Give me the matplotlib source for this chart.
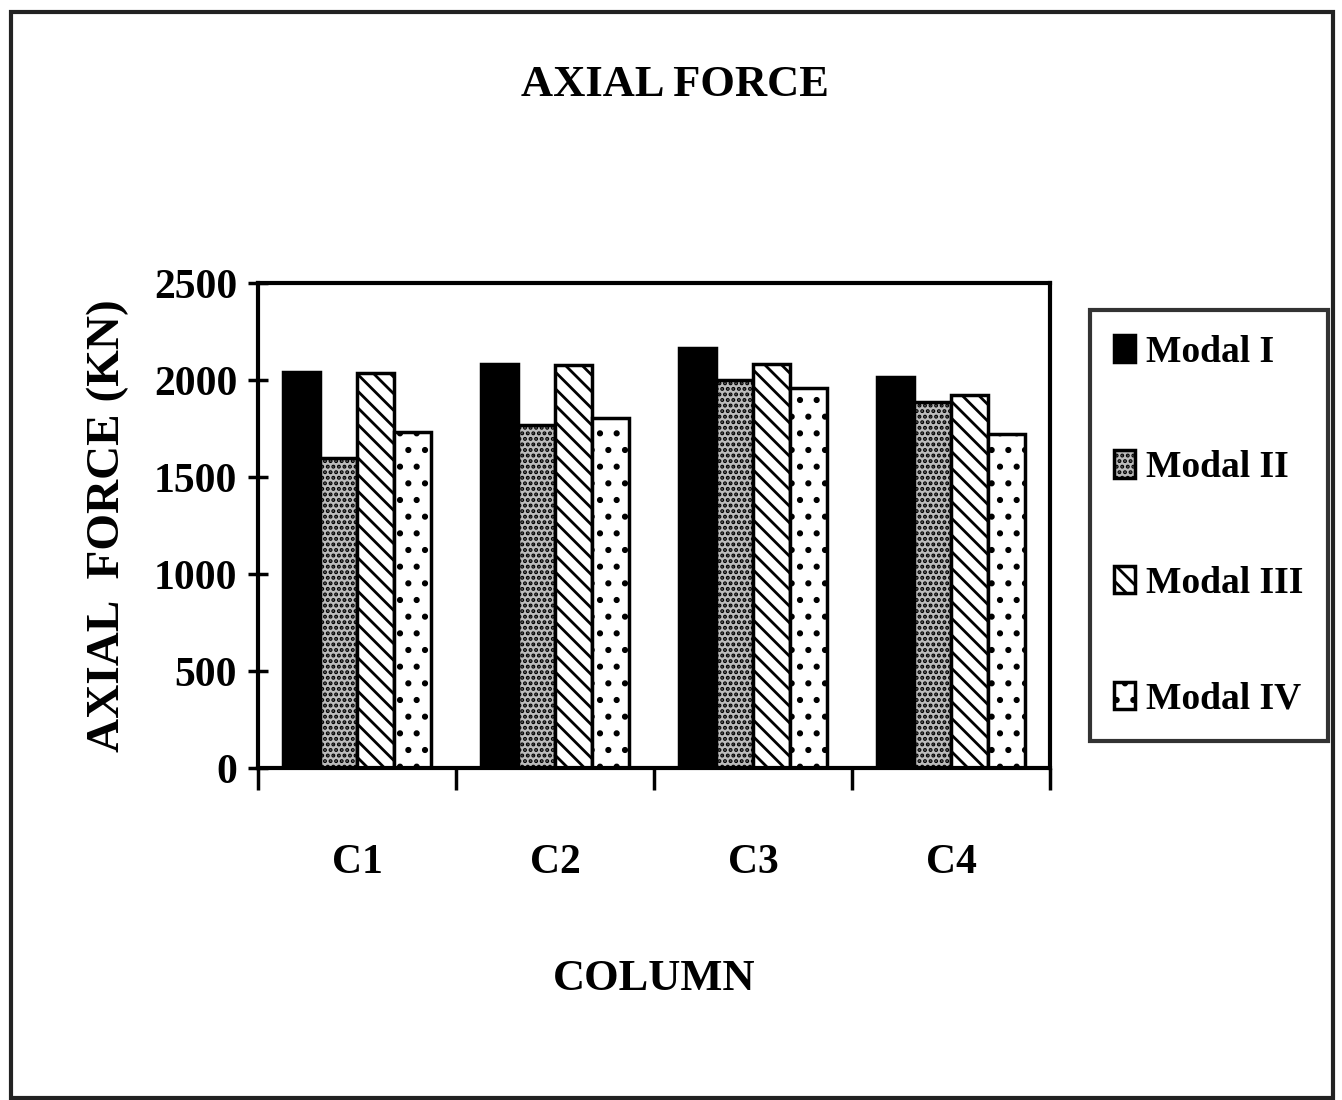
import numpy as np
import matplotlib
matplotlib.use("Agg")
import matplotlib.pyplot as plt
from matplotlib.patches import Rectangle

plt.rcParams['font.family'] = ['Liberation Serif', 'DejaVu Serif']
plt.rcParams['font.weight'] = 'bold'
plt.rcParams['hatch.linewidth'] = 2.0

columns = ['C1', 'C2', 'C3', 'C4']
models = ['Modal I', 'Modal II', 'Modal III', 'Modal IV']

# axial force (kN) per column for each model
model_1 = [2040, 2085, 2165, 2015]
model_2 = [1600, 1770, 2000, 1885]
model_3 = [2035, 2080, 2085, 1925]
model_4 = [1730, 1805, 1960, 1720]

values = [model_1, model_2, model_3, model_4]
faces = ['black', '#bcbcbc', 'white', 'white']
hatches = [None, '...', '\\\\', '.']

fig = plt.figure(figsize=(13.42, 11), dpi=100)
ax = fig.add_axes([0.1923, 0.3018, 0.5901, 0.4409])

x = np.arange(len(columns))
w = 0.1875
for j in range(4):
    ax.bar(x + (j - 1.5) * w, values[j], width=w, color=faces[j],
           hatch=hatches[j], edgecolor='black', linewidth=2.5,
           label=models[j])

ax.set_ylim(0, 2500)
ax.set_xlim(-0.5, 3.5)
ax.set_yticks([0, 500, 1000, 1500, 2000, 2500])
ax.tick_params(axis='y', direction='inout', length=14, width=2.5,
               labelsize=30, pad=8)

# group boundaries get the tick marks, names sit in between
ax.set_xticks(np.arange(-0.5, 4.0, 1.0))
ax.set_xticklabels([])
ax.set_xticks(x, minor=True)
ax.set_xticklabels(columns, minor=True, fontsize=30)
ax.tick_params(axis='x', which='major', direction='out', length=16, width=2.5)
ax.tick_params(axis='x', which='minor', length=0, pad=55)

for s in ax.spines.values():
    s.set_linewidth(3)

fig.text(0.503, 0.923, 'AXIAL FORCE', fontsize=32, fontweight='bold',
         ha='center', va='center')
ax.set_xlabel('COLUMN', fontsize=32, fontweight='bold', labelpad=55)
ax.set_ylabel('AXIAL  FORCE (KN)', fontsize=34, fontweight='bold', labelpad=18)

leg = fig.legend(loc='upper left', bbox_to_anchor=(0.812, 0.718),
                 fontsize=27, frameon=True, fancybox=False,
                 handlelength=0.55, handleheight=0.75, handletextpad=0.3,
                 labelspacing=2.15, borderpad=0.65, borderaxespad=0)
leg.get_frame().set_edgecolor('black')
leg.get_frame().set_linewidth(3)

# outer border of the figure
fig.patches.append(Rectangle((0.0085, 0.002), 0.985, 0.987,
                             transform=fig.transFigure, fill=False,
                             edgecolor='#222222', linewidth=3))

fig.savefig('out.png', dpi=100)
